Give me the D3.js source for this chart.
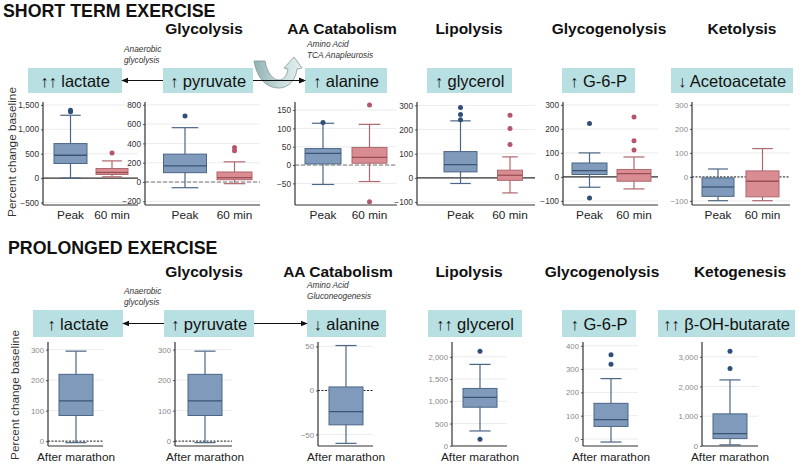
<!DOCTYPE html>
<html>
<head>
<meta charset="utf-8">
<style type="text/css">
body { margin: 0; background: #fff; }
svg { font-family: Arial, "Liberation Sans", sans-serif; }
.section { font-weight: bold; font-size: 17.8px; fill: #111; }
.pathway { font-weight: bold; font-size: 15.5px; fill: #111; }
.metab { font-size: 16.5px; fill: #111; }
.note { font-style: italic; font-size: 8.3px; fill: #333; }
.ylab { font-size: 11.8px; fill: #333; }
.xlab { font-size: 11.8px; fill: #222; }
.tick text { font-size: 8.3px; fill: #333; }
.light .tick text { fill: #888; font-size: 7.8px; }
.grid { stroke: #ececec; stroke-width: 1; }
</style>
<script src="https://d3js.org/d3.v7.min.js"></script>
</head>
<body>
<script type="text/javascript">
// ---- data ----
var shortPathways = ["Glycolysis", "AA Catabolism", "Lipolysis", "Glycogenolysis", "Ketolysis"];
var shortMetabolites = ["↑↑ lactate", "↑ pyruvate", "↑ alanine", "↑ glycerol", "↑ G-6-P", "↓ Acetoacetate"];
var shortGroups = ["Peak", "60 min"];
var shortTicks = [[-500, 0, 500, 1000, 1500], [-200, 0, 200, 400, 600, 800], [-50, 0, 50, 100, 150],
	[-100, 0, 100, 200, 300], [-100, 0, 100, 200, 300], [-100, 0, 100, 200, 300]];
var shortDomains = [[-551, 1560], [-238, 829], [-109, 172], [-112, 314], [-117, 312], [-117, 312]];
// [low whisker, Q1, median, Q3, high whisker]
var shortPeak = [[0, 300, 469, 708, 1288], [-59, 97, 167, 289, 563], [-53, 3, 32, 45, 114],
	[-23, 25, 55, 109, 236], [-43, 10, 26, 58, 100], [-99, -81, -42, -4, 33]];
var shortPeakOut = [[1360, 1390], [685], [116], [241, 262, 291], [222, -88], []];
var short60 = [[27, 75, 116, 197, 353], [-17, 24, 45, 104, 209], [-45, 5, 21, 48, 111],
	[-62, -10, 11, 32, 87], [-50, -18, 14, 31, 83], [-99, -83, -18, 25, 118]];
var short60Out = [[516], [323, 358], [164, -100], [138, 204, 259], [112, 151, 250], []];

var longPathways = ["Glycolysis", "AA Catabolism", "Lipolysis", "Glycogenolysis", "Ketogenesis"];
var longMetabolites = ["↑ lactate", "↑ pyruvate", "↓ alanine", "↑↑ glycerol", "↑ G-6-P", "↑↑ β-OH-butarate"];
var longGroups = ["After marathon"];
var longTicks = [[0, 100, 200, 300], [0, 100, 200, 300], [-50, 0, 50], [0, 500, 1000, 1500, 2000],
	[0, 100, 200, 300, 400], [0, 1000, 2000, 3000]];
var longDomains = [[-16, 325], [-16, 325], [-63, 55], [-5, 2333], [-30, 416], [-5, 3500]];
var longBox = [[-5, 84, 132, 219, 295], [-5, 84, 132, 219, 295], [-60, -39, -24, 4, 51],
	[333, 867, 1089, 1289, 1830], [-13, 54, 83, 153, 259], [33, 244, 411, 1078, 2222]];
var longOut = [[], [], [], [148, 2126], [321, 361], [2611, 3189]];

// ---- layout ----
var width = 800, height = 464;
var svg = d3.select("body").append("svg").attr("width", width).attr("height", height);

var blue = { fill: "#7f9aba", stroke: "#4c6685", med: "#3a5474", dot: "#2f4f7a" };
var pink = { fill: "#d98d92", stroke: "#b0676e", med: "#9a4f57", dot: "#b5566a" };

var shortPanels = [
	{ ax: 43, right: 138, c: [70.5, 112], w: [33, 32], zero: "solid" },
	{ ax: 145, right: 260, c: [185, 234.5], w: [43, 35], zero: "dash" },
	{ ax: 295, right: 397, c: [323, 369.5], w: [36, 35], zero: "dash" },
	{ ax: 417, right: 535, c: [460.5, 510], w: [33, 25], zero: "solid" },
	{ ax: 563, right: 658, c: [589.5, 634], w: [35, 34], zero: "solid" },
	{ ax: 692, right: 790, c: [718, 762.5], w: [32, 33], zero: "dot", light: true }
];
var longPanels = [
	{ ax: 48, right: 103, c: [76], w: [34], zero: "dot" },
	{ ax: 175, right: 232, c: [205], w: [34], zero: "dot" },
	{ ax: 318, right: 373, c: [346], w: [34], zero: "dot" },
	{ ax: 452, right: 507, c: [480], w: [34], zero: "none" },
	{ ax: 583, right: 638, c: [611], w: [34], zero: "none" },
	{ ax: 702, right: 758, c: [730], w: [34], zero: "none" }
];
var shortBoxes = [[28, 122], [163, 253], [305, 387], [427, 512], [562, 635], [671, 793]];
var longBoxes = [[33, 123], [164, 254], [307, 386], [428, 522], [562, 636], [658, 795]];
var shortHead = [204, 342, 469, 609, 742];
var longHead = [204, 338, 469, 602, 740];

function drawPanel(cfg, groups, ticks, domain, boxes, outs, yTop, yBot, xlabY, lightAxis) {
	var g = svg.append("g");
	var y = d3.scaleLinear().domain(domain).range([yBot, yTop]);
	var x = d3.scalePoint().domain(groups).range(groups.length > 1 ? cfg.c : [cfg.c[0], cfg.c[0]]);

	g.selectAll(".grid").data(ticks).enter().append("line")
		.attr("class", "grid")
		.attr("x1", cfg.ax).attr("x2", cfg.right)
		.attr("y1", function(d) { return y(d); }).attr("y2", function(d) { return y(d); });

	if (cfg.zero !== "none") {
		g.append("line")
			.attr("x1", cfg.ax).attr("x2", cfg.right)
			.attr("y1", y(0)).attr("y2", y(0))
			.attr("stroke", cfg.zero === "solid" ? "#333" : (cfg.zero === "dash" ? "#777" : "#222"))
			.attr("stroke-width", cfg.zero === "solid" ? 1.2 : 1)
			.attr("stroke-dasharray", cfg.zero === "dash" ? "4,2" : (cfg.zero === "dot" ? "2,1.5" : null));
	}

	var yAxis = d3.axisLeft(y).tickValues(ticks).tickSize(2).tickPadding(2)
		.tickFormat(d3.format(","));
	var axg = g.append("g").attr("transform", "translate(" + cfg.ax + ",0)")
		.attr("class", lightAxis || cfg.light ? "light" : null).call(yAxis);
	axg.select(".domain").remove();
	axg.selectAll(".tick line").attr("stroke", "#555");
	g.append("line").attr("x1", cfg.ax).attr("x2", cfg.ax).attr("y1", yTop).attr("y2", yBot)
		.attr("stroke", "#333").attr("stroke-width", 1.2);
	g.append("line").attr("x1", cfg.ax).attr("x2", cfg.right).attr("y1", yBot).attr("y2", yBot)
		.attr("stroke", "#333").attr("stroke-width", 1.2);

	groups.forEach(function(grp, i) {
		var s = boxes[i], col = i === 0 ? blue : pink;
		var cx = x(grp), bw = cfg.w[i], cap = bw * 0.62;
		g.append("line").attr("x1", cx).attr("x2", cx).attr("y1", y(s[0])).attr("y2", y(s[4]))
			.attr("stroke", col.stroke).attr("stroke-width", 1.2);
		[s[0], s[4]].forEach(function(v) {
			g.append("line").attr("x1", cx - cap / 2).attr("x2", cx + cap / 2)
				.attr("y1", y(v)).attr("y2", y(v)).attr("stroke", col.stroke).attr("stroke-width", 1.2);
		});
		g.append("rect").attr("x", cx - bw / 2).attr("width", bw)
			.attr("y", y(s[3])).attr("height", y(s[1]) - y(s[3]))
			.attr("fill", col.fill).attr("stroke", col.stroke).attr("stroke-width", 1);
		g.append("line").attr("x1", cx - bw / 2).attr("x2", cx + bw / 2)
			.attr("y1", y(s[2])).attr("y2", y(s[2])).attr("stroke", col.med).attr("stroke-width", 1.3);
		g.selectAll(".o" + i).data(outs[i]).enter().append("circle")
			.attr("cx", cx).attr("cy", function(d) { return y(d); }).attr("r", 2.5)
			.attr("fill", col.dot);
		g.append("text").attr("class", "xlab").attr("x", cx).attr("y", xlabY)
			.attr("text-anchor", "middle").text(grp);
	});
}

function drawRow(top, pathways, heads, metabs, boxXs, bY0, bY1, notes) {
	svg.selectAll(null).data(pathways).enter().append("text")
		.attr("class", "pathway").attr("text-anchor", "middle")
		.attr("x", function(d, i) { return heads[i]; }).attr("y", top)
		.text(function(d) { return d; });
	svg.selectAll(null).data(metabs).enter().append("rect")
		.attr("x", function(d, i) { return boxXs[i][0]; }).attr("y", bY0)
		.attr("width", function(d, i) { return boxXs[i][1] - boxXs[i][0]; }).attr("height", bY1 - bY0)
		.attr("fill", "#b8dfe1");
	svg.selectAll(null).data(metabs).enter().append("text")
		.attr("class", "metab").attr("text-anchor", "middle")
		.attr("x", function(d, i) { return (boxXs[i][0] + boxXs[i][1]) / 2; })
		.attr("y", (bY0 + bY1) / 2 + 6)
		.text(function(d) { return d; });
	var ay = (bY0 + bY1) / 2;
	arrow(boxXs[1][0], boxXs[0][1], ay);
	arrow(boxXs[1][1], boxXs[2][0], ay);
	notes.forEach(function(n) {
		svg.append("text").attr("class", "note").attr("x", n[0]).attr("y", n[1]).text(n[2]);
	});
}

var defs = svg.append("defs");
defs.append("marker").attr("id", "head").attr("viewBox", "0 0 10 10").attr("refX", 9).attr("refY", 5)
	.attr("markerWidth", 6).attr("markerHeight", 6).attr("orient", "auto")
	.append("path").attr("d", "M0,1 L10,5 L0,9 Z").attr("fill", "#111");
var grad = defs.append("linearGradient").attr("id", "curv").attr("x1", 0).attr("x2", 1).attr("y1", 0).attr("y2", 0);
grad.append("stop").attr("offset", "0%").attr("stop-color", "#8fb0b2");
grad.append("stop").attr("offset", "55%").attr("stop-color", "#c8dcdc");
grad.append("stop").attr("offset", "100%").attr("stop-color", "#e6f0f0");

function arrow(x1, x2, yy) {
	svg.append("line").attr("x1", x1).attr("x2", x2).attr("y1", yy).attr("y2", yy)
		.attr("stroke", "#111").attr("stroke-width", 1.2).attr("marker-end", "url(#head)");
}

// titles
svg.append("text").attr("class", "section").attr("x", 3).attr("y", 17).text("SHORT TERM EXERCISE");
svg.append("text").attr("class", "section").attr("x", 8).attr("y", 254).text("PROLONGED EXERCISE");

drawRow(34, shortPathways, shortHead, shortMetabolites, shortBoxes, 68, 93,
	[[124, 52, "Anaerobic"], [124, 63, "glycolysis"], [307, 47, "Amino Acid"], [307, 58, "TCA Anapleurosis"]]);
drawRow(277, longPathways, longHead, longMetabolites, longBoxes, 310, 337,
	[[124, 294, "Anaerobic"], [124, 305, "glycolysis"], [307, 288, "Amino Acid"], [307, 299, "Gluconeogenesis"]]);

// curved block arrow (anapleurosis)
svg.append("path")
	.attr("d", "M254,61 L265,61 C267,73 273,80 279,80 C284,80 287,75 288,69 L284,68 L294,57 L302,68 L297,69 C296,79 289,88 279,88 C266,88 257,78 254,61 Z")
	.attr("fill", "url(#curv)").attr("stroke", "#7d9798").attr("stroke-width", 0.8);
arrow(253, 305, 80.5);

// y labels
svg.append("text").attr("class", "ylab").attr("text-anchor", "middle")
	.attr("transform", "translate(16,152) rotate(-90)").text("Percent change baseline");
svg.append("text").attr("class", "ylab").attr("text-anchor", "middle")
	.attr("transform", "translate(19,395) rotate(-90)").text("Percent change baseline");

shortPanels.forEach(function(p, i) {
	drawPanel(p, shortGroups, shortTicks[i], shortDomains[i], [shortPeak[i], short60[i]],
		[shortPeakOut[i], short60Out[i]], 102, 205, 219, false);
});
longPanels.forEach(function(p, i) {
	drawPanel(p, longGroups, longTicks[i], longDomains[i], [longBox[i]], [longOut[i]], 342, 446, 461, true);
});
</script>
</body>
</html>
